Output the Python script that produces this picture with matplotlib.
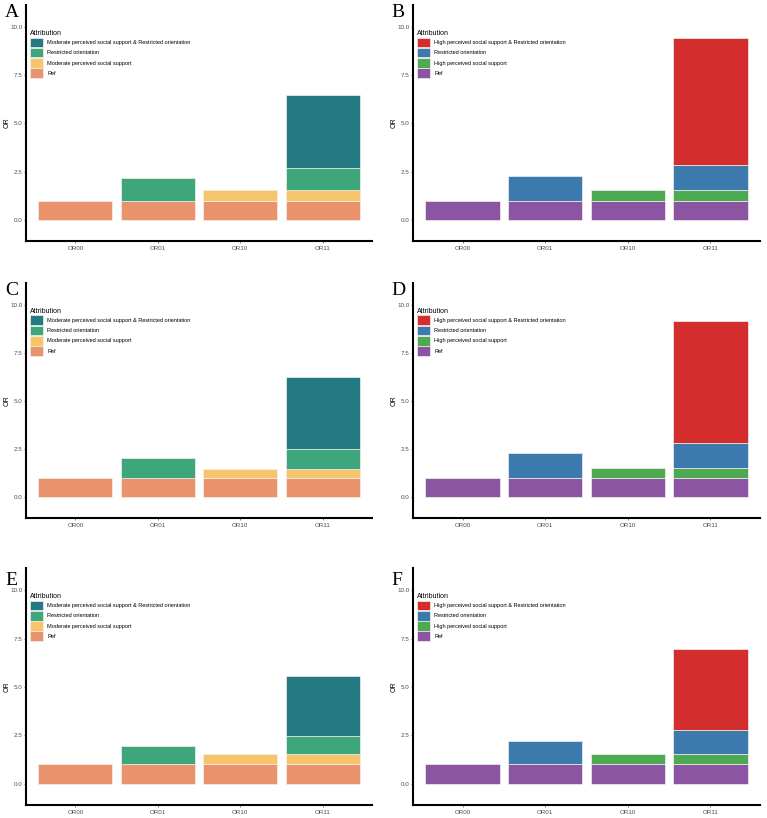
import numpy as np
import matplotlib.pyplot as plt
from matplotlib.patches import Patch

plt.rcParams['font.family'] = ['Liberation Sans', 'DejaVu Sans']

# Categories and panel letters
categories = ["OR00", "OR01", "OR10", "OR11"]
panels = ["A", "B", "C", "D", "E", "F"]

# Odds ratios (OR00 = 1 reference)
or01 = [2.16, 2.29, 2.04, 2.28, 1.95, 2.21]
or10 = [1.55, 1.55, 1.48, 1.52, 1.52, 1.55]
or11 = [6.49, 9.46, 6.23, 9.19, 5.57, 6.98]

# Legend labels (top to bottom) and colours
labels_mod = ["Moderate perceived social support & Restricted orientation",
              "Restricted orientation", "Moderate perceived social support", "Ref"]
labels_high = ["High perceived social support & Restricted orientation",
               "Restricted orientation", "High perceived social support", "Ref"]
colors_mod = ["#247A82", "#3DA67B", "#F6C56B", "#E8936B"]
colors_high = ["#D42D2E", "#3C79AD", "#4EA953", "#8B55A2"]

W, H = 767, 818
fig = plt.figure(figsize=(W / 100, H / 100), dpi=100)

# axes boxes in pixels: left, right, top, bottom
cols = [(26, 372), (413, 760)]
rows = [(5, 241), (283, 518), (568, 805)]
letter_y = [17, 295, 585]
letter_x = [5, 391]

x = np.arange(len(categories))
for i, name in enumerate(panels):
    r, c = divmod(i, 2)
    l, rgt = cols[c]
    t, b = rows[r]
    ax = fig.add_axes([l / W, 1 - b / H, (rgt - l) / W, (b - t) / H])

    labs = labels_mod if c == 0 else labels_high
    cols_ = colors_mod if c == 0 else colors_high

    # additive decomposition of each OR bar
    ref = np.array([1, 1, 1, 1])
    fac = np.array([0, 0, or10[i] - 1, or10[i] - 1])
    restr = np.array([0, or01[i] - 1, 0, or01[i] - 1])
    inter = np.array([0, 0, 0, or11[i] - or10[i] - or01[i] + 1])

    bottom = np.zeros(4)
    for seg, col in zip([ref, fac, restr, inter], cols_[::-1]):
        mask = seg > 0
        ax.bar(x[mask], seg[mask], bottom=bottom[mask], width=0.9, color=col,
               edgecolor="#F4F0EC", linewidth=0.5)
        bottom = bottom + seg

    ax.set_xlim(-0.6, 3.6)
    ax.set_ylim(-1.1, 11.15)
    ax.set_yticks([0, 2.5, 5, 7.5, 10])
    ax.set_yticklabels(["0.0", "2.5", "5.0", "7.5", "10.0"])
    ax.set_xticks(x)
    ax.set_xticklabels(categories)
    ax.tick_params(labelsize=4.5, colors="#4D4D4D", length=1.5, width=0.5, pad=0.8)
    ax.tick_params(axis="x", pad=1.8)
    ax.set_ylabel("OR", fontsize=5)
    ax.yaxis.set_label_coords(-0.043, 0.5)
    for s in ["top", "right"]:
        ax.spines[s].set_visible(False)
    for s in ["left", "bottom"]:
        ax.spines[s].set_linewidth(1.5)

    handles = [Patch(facecolor=cc, edgecolor="#F4F0EC", linewidth=0.5) for cc in cols_]
    leg = ax.legend(handles, labs, title="Attribution", loc="upper left",
                    bbox_to_anchor=(0.012, 0.894), frameon=False, fontsize=4.0,
                    title_fontsize=5.0, handlelength=2.3, handleheight=2.3,
                    labelspacing=0.1, handletextpad=0.8, borderpad=0,
                    borderaxespad=0)
    leg._legend_box.align = "left"

    fig.text(letter_x[c] / W, 1 - letter_y[r] / H, name, fontsize=14,
             family="Liberation Serif", ha="left", va="baseline")

fig.savefig("out.png", dpi=100)
